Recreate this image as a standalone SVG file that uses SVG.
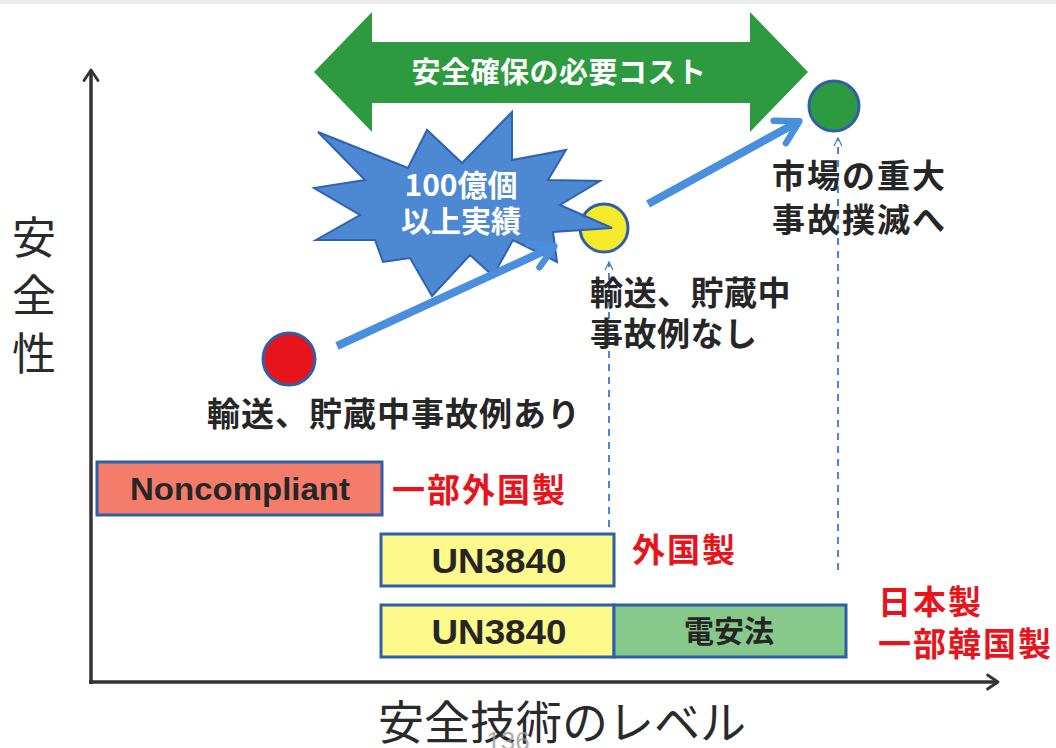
<svg xmlns="http://www.w3.org/2000/svg" width="1056" height="748" viewBox="0 0 1056 748">
<defs>
<style>
.jp{font-family:"Noto Sans CJK JP","Noto Sans",sans-serif;}
.lbl{font-family:"Noto Sans CJK JP",sans-serif;font-weight:bold;fill:#262626;font-size:33px;}
.red{font-family:"Noto Sans CJK JP",sans-serif;font-weight:bold;fill:#e8141b;font-size:33px;}
.wht{font-family:"Noto Sans CJK JP",sans-serif;font-weight:bold;fill:#ffffff;}
.box{stroke:#2f5fa8;stroke-width:3;}
.boxt{font-family:"Liberation Sans","Noto Sans",sans-serif;font-weight:bold;fill:#262626;text-anchor:middle;}
.axis{stroke:#333333;stroke-width:3.5;fill:none;}
.blue{stroke:#4a8fdc;stroke-width:8;fill:none;}
.dash{stroke:#3a7ad6;stroke-width:1.8;stroke-dasharray:7,6;fill:none;}
.dot{stroke:#2f5fa8;stroke-width:3;}
</style>
<marker id="ah" viewBox="0 0 10 10" refX="8" refY="5" markerWidth="4" markerHeight="4" orient="auto" markerUnits="strokeWidth">
<path d="M1.5,1 L8.5,5 L1.5,9" fill="none" stroke="#4a8fdc" stroke-width="2" stroke-linecap="round" stroke-linejoin="round"/>
</marker>
<marker id="ahd" viewBox="0 0 10 10" refX="9" refY="5" markerWidth="10" markerHeight="10" orient="auto" markerUnits="userSpaceOnUse">
<path d="M1,1 L9,5 L1,9" fill="none" stroke="#3a7ad6" stroke-width="1.2"/>
</marker>
<marker id="axh" viewBox="0 0 10 10" refX="8" refY="5" markerWidth="5" markerHeight="5" orient="auto" markerUnits="strokeWidth">
<path d="M2,1 L8,5 L2,9" fill="none" stroke="#333333" stroke-width="1.6" stroke-linecap="round" stroke-linejoin="round"/>
</marker>
</defs>
<rect x="0" y="0" width="1056" height="748" fill="#ffffff"/>
<rect x="0" y="0" width="1056" height="4" fill="#ececec"/>

<g id="axes">
<line class="axis" x1="91" y1="684" x2="91" y2="70" marker-end="url(#axh)"/>
<line class="axis" x1="89" y1="682" x2="998" y2="682" marker-end="url(#axh)"/>
</g>
<g id="y-label" class="jp" font-size="44" fill="#2a2a2a">
<text x="34" y="254" text-anchor="middle">安</text>
<text x="34" y="312" text-anchor="middle">全</text>
<text x="34" y="370" text-anchor="middle">性</text>
</g>
<g id="x-label">
<text class="jp" x="562" y="739" font-size="46" fill="#2a2a2a" text-anchor="middle">安全技術のレベル</text>
<text x="508" y="750" font-family="Liberation Sans, sans-serif" font-size="26" fill="#9a9a9a" text-anchor="middle" opacity="0.8">136</text>
</g>

<g id="cost-arrow">
<polygon points="314,72 372,12 372,42 750,42 750,12 808,72 750,132 750,103 372,103 372,132" fill="#2e9a3f"/>
<text class="wht" x="559" y="83" font-size="29" text-anchor="middle" letter-spacing="0.5">安全確保の必要コスト</text>
</g>

<g id="node-yellow">
<circle class="dot" cx="604" cy="228" r="24" fill="#f4ea2a"/>
</g>

<g id="burst">
<polygon points="318,132 408,168 427,130 462,163 512,112 512,160 566,150 548,180 600,181 560,205 612,228 553,232 557,262 513,240 493,276 470,255 432,296 410,258 383,262 375,240 316,240 360,215 314,188 365,180" fill="#4d89d3" stroke="#2f62b0" stroke-width="2" stroke-linejoin="miter"/>
<text class="wht" x="461" y="196" font-size="30" text-anchor="middle">100億個</text>
<text class="wht" x="461" y="232" font-size="30" text-anchor="middle">以上実績</text>
</g>

<g id="node-red">
<circle class="dot" cx="289" cy="359" r="26" fill="#e8141b"/>
</g>
<g id="node-green">
<circle class="dot" cx="834" cy="106" r="25" fill="#2e9a3f"/>
</g>

<g id="connectors">
<line class="blue" x1="337" y1="346" x2="553" y2="247" marker-end="url(#ah)"/>
<line class="blue" x1="648" y1="204" x2="798" y2="122" marker-end="url(#ah)"/>
<line class="dash" x1="609" y1="527" x2="609" y2="262" marker-end="url(#ahd)"/>
<line class="dash" x1="838" y1="570" x2="838" y2="138" marker-end="url(#ahd)"/>
</g>

<g id="labels">
<text class="lbl" x="207" y="426" letter-spacing="1">輸送、貯蔵中事故例あり</text>
<text class="lbl" x="590" y="305" letter-spacing="0.5">輸送、貯蔵中</text>
<text class="lbl" x="590" y="346" letter-spacing="0.5">事故例なし</text>
<text class="lbl" x="772" y="188" letter-spacing="2">市場の重大</text>
<text class="lbl" x="772" y="232" letter-spacing="2">事故撲滅へ</text>
</g>

<g id="box-noncompliant">
<rect class="box" x="97" y="462" width="285" height="53" fill="#f47c6a"/>
<text class="boxt" x="240" y="500" font-size="31" textLength="220" lengthAdjust="spacingAndGlyphs">Noncompliant</text>
<text class="red" x="392" y="502" letter-spacing="2">一部外国製</text>
</g>
<g id="box-un3840-a">
<rect class="box" x="381" y="534" width="233" height="52" fill="#fdf98a"/>
<text class="boxt" x="499" y="573" font-size="35" textLength="135" lengthAdjust="spacingAndGlyphs">UN3840</text>
<text class="red" x="632" y="562" letter-spacing="2">外国製</text>
</g>
<g id="box-un3840-b">
<rect class="box" x="381" y="605" width="233" height="52" fill="#fdf98a"/>
<text class="boxt" x="499" y="644" font-size="35" textLength="135" lengthAdjust="spacingAndGlyphs">UN3840</text>
</g>
<g id="box-denanho">
<rect class="box" x="614" y="605" width="232" height="52" fill="#86c98a"/>
<text class="jp" x="729" y="642" font-size="30" font-weight="bold" fill="#262626" text-anchor="middle">電安法</text>
<text class="red" x="878" y="614" letter-spacing="2">日本製</text>
<text class="red" x="878" y="656" letter-spacing="2">一部韓国製</text>
</g>
</svg>
